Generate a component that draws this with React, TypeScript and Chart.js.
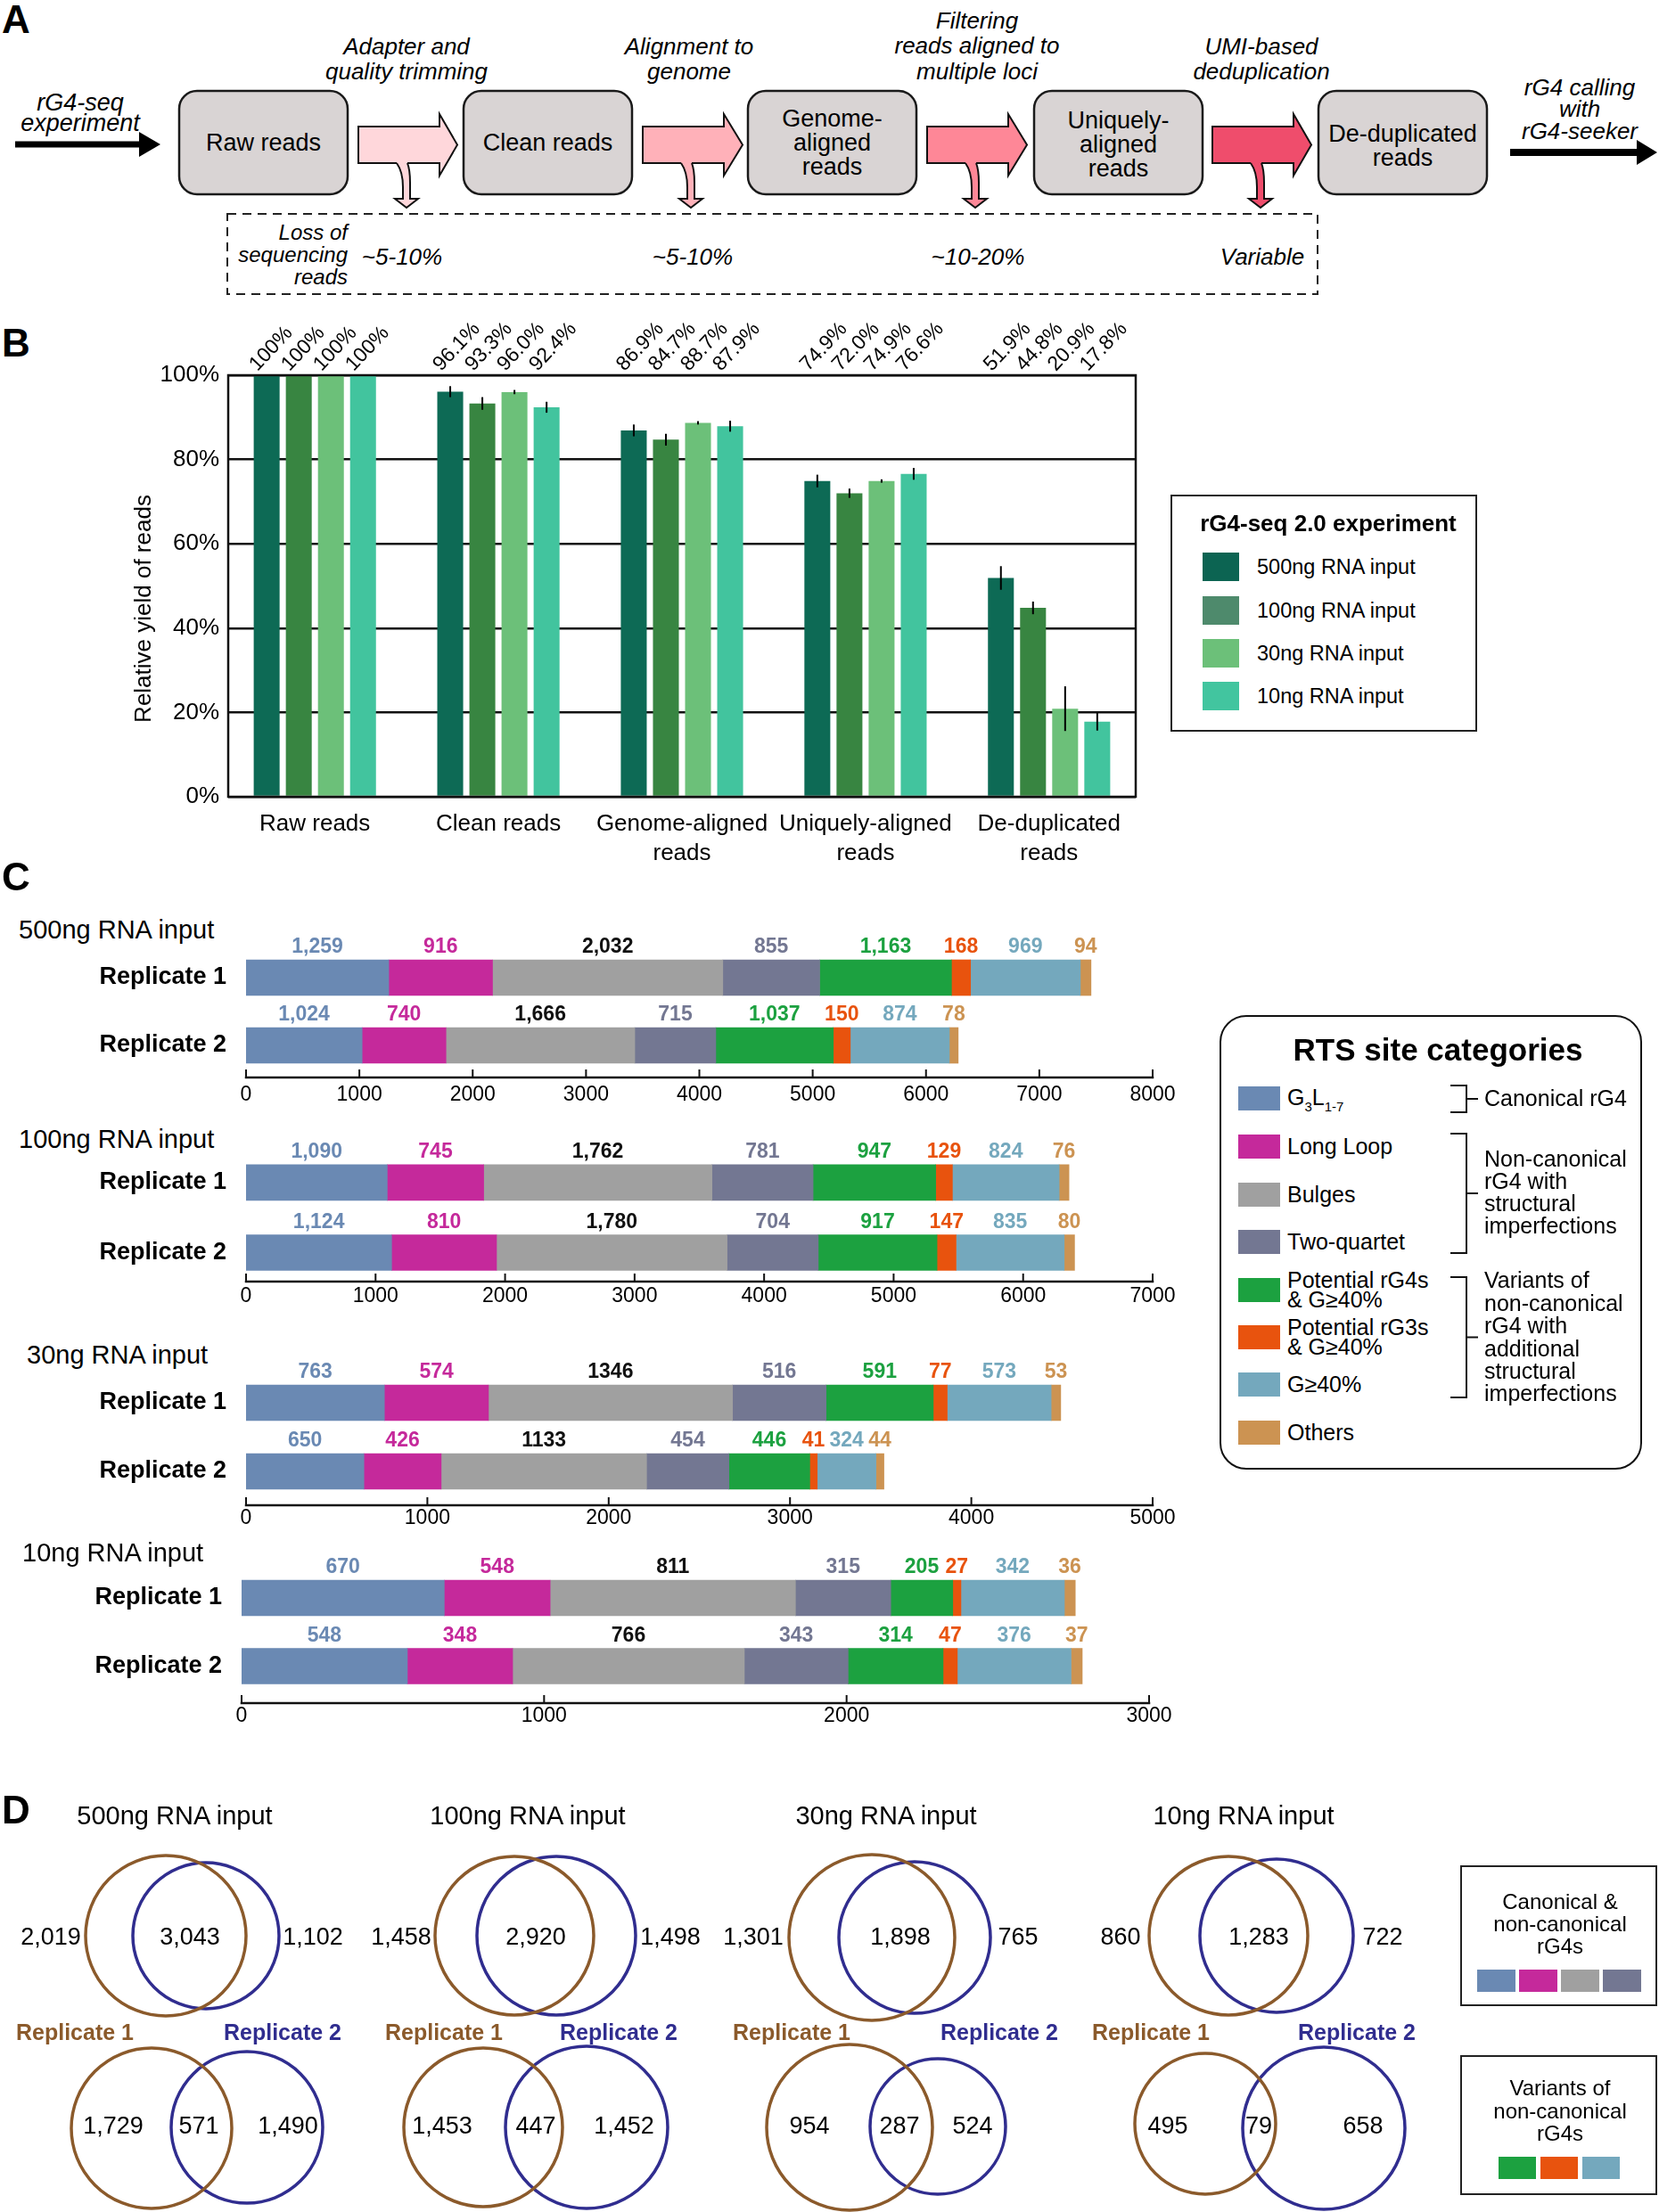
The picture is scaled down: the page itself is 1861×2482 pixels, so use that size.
import React, { useEffect, useRef } from 'react';
import { Chart, registerables } from 'chart.js';

Chart.register(...registerables);
const FONT = "'Liberation Sans', Arial, Helvetica, sans-serif";
Chart.defaults.font.family = FONT;
Chart.defaults.color = '#000';

const PAGE_W = 1861;
const PAGE_H = 2482;

// ================= Panel B data =================
const stepTickLabels = [['Raw reads'], ['Clean reads'], ['Genome-aligned', 'reads'], ['Uniquely-aligned', 'reads'], ['De-duplicated', 'reads']];
const inputLabels = ['500ng RNA input', '100ng RNA input', '30ng RNA input', '10ng RNA input'];
const yield500ng = [100, 96.1, 86.9, 74.9, 51.9];
const yield100ng = [100, 93.3, 84.7, 72.0, 44.8];
const yield30ng = [100, 96.0, 88.7, 74.9, 20.9];
const yield10ng = [100, 92.4, 87.9, 76.6, 17.8];
const err500ng = [0, 1.3, 1.4, 1.5, 2.8];
const err100ng = [0, 1.5, 1.4, 1.1, 1.5];
const err30ng = [0, 0.5, 0.4, 0.4, 5.3];
const err10ng = [0, 1.3, 1.3, 1.4, 2.1];
const yieldTicks = [0, 20, 40, 60, 80, 100];

// ================= Panel C data =================
const rtsCategories = ['G3L1-7', 'Long Loop', 'Bulges', 'Two-quartet', 'Potential rG4s\n& G≥40%', 'Potential rG3s\n& G≥40%', 'G≥40%', 'Others'];
const replicateLabels = ['Replicate 1', 'Replicate 2'];
const rts500Rep1 = [1259, 916, 2032, 855, 1163, 168, 969, 94];
const rts500Rep2 = [1024, 740, 1666, 715, 1037, 150, 874, 78];
const rts100Rep1 = [1090, 745, 1762, 781, 947, 129, 824, 76];
const rts100Rep2 = [1124, 810, 1780, 704, 917, 147, 835, 80];
const rts30Rep1 = [763, 574, 1346, 516, 591, 77, 573, 53];
const rts30Rep2 = [650, 426, 1133, 454, 446, 41, 324, 44];
const rts10Rep1 = [670, 548, 811, 315, 205, 27, 342, 36];
const rts10Rep2 = [548, 348, 766, 343, 314, 47, 376, 37];
// bar lengths as drawn in the figure for 10ng replicate 1 (Long Loop bar is drawn ~350 long under its "548" label)
const rts10Rep1Drawn = [670, 350, 811, 315, 205, 27, 342, 36];
const ticks500 = [0, 1000, 2000, 3000, 4000, 5000, 6000, 7000, 8000];
const ticks100 = [0, 1000, 2000, 3000, 4000, 5000, 6000, 7000];
const ticks30 = [0, 1000, 2000, 3000, 4000, 5000];
const ticks10 = [0, 1000, 2000, 3000];

// ================= Panel D data =================
const vennTitles = ['500ng RNA input', '100ng RNA input', '30ng RNA input', '10ng RNA input'];
const canonicalRep1Only = [2019, 1458, 1301, 860];
const canonicalShared = [3043, 2920, 1898, 1283];
const canonicalRep2Only = [1102, 1498, 765, 722];
const variantRep1Only = [1729, 1453, 954, 495];
const variantShared = [571, 447, 287, 79];
const variantRep2Only = [1490, 1452, 524, 658];

// ================= styles =================
const bBarColors = ['#0d6a55', '#388541', '#6cc079', '#42c49e'];
const bLegendColors = ['#0c6452', '#4e8a6c', '#6cc079', '#42c59f'];
const rtsColors = ['#6a89b3', '#c5299b', '#a0a0a0', '#737792', '#1ca140', '#e8530e', '#74a8bd', '#cc9352'];
const rtsLabelColors = ['#6a89b3', '#c5299b', '#111111', '#737792', '#1ca140', '#e8530e', '#74a8bd', '#cc9352'];
const REP1_COLOR = '#8b5a2b';
const REP2_COLOR = '#302d8f';

function T(props: any) {
  const { x, y, size = 26, weight = 400, italic = false, color = '#000', align = 'left', lh, children } = props;
  const L = lh ?? Math.round(size * 1.2);
  const s: any = {
    position: 'absolute', top: y - L / 2, fontSize: size, lineHeight: `${L}px`, fontWeight: weight,
    fontStyle: italic ? 'italic' : 'normal', color, whiteSpace: 'pre', fontFamily: FONT,
  };
  if (align === 'center') { s.left = x - 600; s.width = 1200; s.textAlign = 'center'; }
  else if (align === 'right') { s.left = x - 1200; s.width = 1200; s.textAlign = 'right'; }
  else { s.left = x; }
  return <div style={s}>{children}</div>;
}

function ChartCanvas({ left, top, width, height, make }: any) {
  const ref = useRef<HTMLCanvasElement>(null);
  useEffect(() => {
    const ch = make(ref.current);
    return () => ch.destroy();
  }, []);
  return <canvas ref={ref} width={width} height={height} style={{ position: 'absolute', left, top, width, height }} />;
}

// ================= Panel A =================
const boxXs = [201, 520, 839, 1160, 1479];
const arrowGeo = [[402, 493, 513], [721, 812, 833], [1040, 1131, 1152], [1360, 1451, 1471]];
const arrowColors = ['#ffd7db', '#ffb1b9', '#fe8797', '#ef4d6c'];

function PanelA() {
  const cy = 162.5, sh = 20.5, hh = 34.5;
  return (
    <>
      <svg width={PAGE_W} height={340} style={{ position: 'absolute', left: 0, top: 0 }}>
        <path d="M17,158.5 L156,158.5 L156,148 L180,162 L156,176 L156,165.5 L17,165.5 Z" fill="#000" />
        <path d="M1694,167 L1836,167 L1836,157 L1859,171 L1836,185 L1836,175 L1694,175 Z" fill="#000" />
        {boxXs.map((x, i) => (
          <rect key={i} x={x} y={102} width={189} height={116} rx={20} ry={20} fill="#d9d4d4" stroke="#1a1a1a" strokeWidth={2.5} />
        ))}
        {arrowGeo.map(([sx, hx, tx], i) => {
          const body = `M${sx},${cy - sh} L${hx},${cy - sh} L${hx},${cy - hh} L${tx},${cy} L${hx},${cy + hh} L${hx},${cy + sh} L${sx},${cy + sh} Z`;
          const b = cy + sh;
          const sideCore = `C${sx + 48},${b + 7} ${sx + 50},${b + 17} ${sx + 50},${b + 27} L${sx + 50},223 L${sx + 41},223 L${sx + 54},233 L${sx + 67},223 L${sx + 58},223 L${sx + 58},${b + 22} C${sx + 58},${b + 12} ${sx + 57},${b + 5} ${sx + 55},${b}`;
          const side = `M${sx + 43},${b} ${sideCore}`;
          const fillP = `M${sx + 43},${b - 3} L${sx + 43},${b} ${sideCore} L${sx + 55},${b - 3} Z`;
          return (
            <g key={i}>
              <path d={body} fill={arrowColors[i]} stroke="#111" strokeWidth={2} strokeLinejoin="miter" />
              <path d={fillP} fill={arrowColors[i]} stroke="none" />
              <path d={side} fill="none" stroke="#111" strokeWidth={2} />
            </g>
          );
        })}
        <rect x={255} y={240} width={1223} height={90} fill="none" stroke="#222" strokeWidth={2} strokeDasharray="10 7" />
      </svg>
      <T x={2} y={22} size={44} weight={700} lh={44}>A</T>
      <T x={90} y={115} size={27} italic align="center" lh={23}>{'rG4-seq\nexperiment'}</T>
      <T x={456} y={52} size={26} italic align="center" lh={28}>{'Adapter and\nquality trimming'}</T>
      <T x={773} y={52} size={26} italic align="center" lh={28}>{'Alignment to\ngenome'}</T>
      <T x={1096} y={23} size={26} italic align="center" lh={28.5}>{'Filtering\nreads aligned to\nmultiple loci'}</T>
      <T x={1415} y={52} size={26} italic align="center" lh={28}>{'UMI-based\ndeduplication'}</T>
      <T x={1772} y={98} size={26} italic align="center" lh={24.5}>{'rG4 calling\nwith\nrG4-seeker'}</T>
      <T x={295.5} y={160} size={27} align="center">Raw reads</T>
      <T x={614.5} y={160} size={27} align="center">Clean reads</T>
      <T x={933.5} y={133} size={27} align="center" lh={27}>{'Genome-\naligned\nreads'}</T>
      <T x={1254.5} y={135} size={27} align="center" lh={27}>{'Uniquely-\naligned\nreads'}</T>
      <T x={1573.5} y={150} size={27} align="center" lh={27}>{'De-duplicated\nreads'}</T>
      <T x={390} y={260} size={24} italic align="right" lh={25}>{'Loss of\nsequencing\nreads'}</T>
      <T x={451} y={288} size={26} italic align="center">~5-10%</T>
      <T x={777} y={288} size={26} italic align="center">~5-10%</T>
      <T x={1097} y={288} size={26} italic align="center">~10-20%</T>
      <T x={1416} y={288} size={26} italic align="center">Variable</T>
    </>
  );
}

// ================= Panel B =================
const B_XMIN = -0.472;
const B_XMAX = 4.472;

function makeYieldChart(canvas: HTMLCanvasElement) {
  const series = [yield500ng, yield100ng, yield30ng, yield10ng];
  const errors = [err500ng, err100ng, err30ng, err10ng];
  const TOP = 340;
  const fmtPct = (v: number) => (v === 100 ? '100%' : v.toFixed(1) + '%');
  const decor = {
    id: 'bDecor',
    afterDatasetsDraw(chart: any) {
      const { ctx, chartArea: a } = chart;
      const y = chart.scales.y;
      ctx.save();
      ctx.strokeStyle = '#111';
      ctx.lineWidth = 2.5;
      ctx.strokeRect(a.left, a.top, a.right - a.left, a.bottom - a.top);
      ctx.lineWidth = 2;
      ctx.strokeStyle = '#000';
      series.forEach((vals, i) => {
        const meta = chart.getDatasetMeta(i);
        vals.forEach((v, j) => {
          const e = errors[i][j];
          if (!e) return;
          const x = meta.data[j].x;
          ctx.beginPath();
          ctx.moveTo(x, y.getPixelForValue(v + e));
          ctx.lineTo(x, y.getPixelForValue(v - e));
          ctx.stroke();
        });
      });
      ctx.fillStyle = '#000';
      ctx.font = `23px ${FONT}`;
      ctx.textAlign = 'left';
      ctx.textBaseline = 'middle';
      series.forEach((vals, i) => {
        const meta = chart.getDatasetMeta(i);
        vals.forEach((v, j) => {
          const x = meta.data[j].x;
          ctx.save();
          ctx.translate(x - 15, a.top - 8);
          ctx.rotate(-Math.PI * 0.26);
          ctx.fillText(fmtPct(v), 0, 0);
          ctx.restore();
        });
      });
      ctx.save();
      ctx.translate(162, 683 - TOP);
      ctx.rotate(-Math.PI / 2);
      ctx.textAlign = 'center';
      ctx.font = `26px ${FONT}`;
      ctx.fillText('Relative yield of reads', 0, 0);
      ctx.restore();
      ctx.restore();
    },
  };
  return new Chart(canvas, {
    type: 'bar',
    data: {
      datasets: series.map((vals, i) => ({
        label: inputLabels[i],
        data: vals.map((v, j) => ({ x: j, y: v })),
        backgroundColor: bBarColors[i],
        borderWidth: 0,
        categoryPercentage: 0.7,
        barPercentage: 0.806,
      })),
    },
    options: {
      responsive: false,
      animation: false,
      events: [],
      layout: { autoPadding: false, padding: { top: 81, right: 26, bottom: 0, left: 0 } },
      plugins: { legend: { display: false }, tooltip: { enabled: false } },
      scales: {
        x: {
          type: 'linear',
          offset: false,
          bounds: 'data',
          min: B_XMIN,
          max: B_XMAX,
          afterBuildTicks: (s: any) => {
            s.ticks = [0, 1, 2, 3, 4].map((v) => ({ value: v }));
            s.min = B_XMIN;
            s.max = B_XMAX;
          },
          afterFit: (s: any) => { s.height = 86; },
          grid: { display: false, offset: false, drawTicks: false },
          border: { display: false },
          ticks: {
            autoSkip: false,
            maxRotation: 0,
            padding: 14,
            color: '#000',
            font: { size: 26, lineHeight: 1.27 },
            callback: (v: any) => stepTickLabels[Math.round(v)] ?? '',
          },
        },
        y: {
          min: 0,
          max: 100,
          afterBuildTicks: (s: any) => { s.ticks = yieldTicks.map((v) => ({ value: v })); },
          afterFit: (s: any) => { s.width = 256; },
          grid: { color: '#111', lineWidth: 2.5, drawTicks: false },
          border: { display: false },
          ticks: { padding: 10, color: '#000', font: { size: 26 }, callback: (v: any) => `${v}%` },
        },
      },
    } as any,
    plugins: [decor],
  } as any);
}

function PanelB() {
  const rows = [636, 685, 733, 781];
  return (
    <>
      <T x={2} y={385} size={44} weight={700} lh={44}>B</T>
      <ChartCanvas left={0} top={340} width={1300} height={640} make={makeYieldChart} />
      <div style={{ position: 'absolute', left: 1313, top: 555, width: 344, height: 266, border: '2px solid #222', boxSizing: 'border-box' }} />
      <T x={1490} y={587} size={26} weight={700} align="center">rG4-seq 2.0 experiment</T>
      {rows.map((cy, i) => (
        <React.Fragment key={i}>
          <div style={{ position: 'absolute', left: 1349, top: cy - 16, width: 41, height: 32, background: bLegendColors[i] }} />
          <T x={1410} y={cy} size={23.5}>{inputLabels[i]}</T>
        </React.Fragment>
      ))}
    </>
  );
}

// ================= Panel C =================
const C_CANVAS_W = 1330;
const rtsCharts = [
  { title: '500ng RNA input', titleX: 21, titleY: 1043, bars: [rts500Rep1, rts500Rep2], labels: [rts500Rep1, rts500Rep2], max: 8000, ticks: ticks500, comma: true, g: { areaTop: 1059, pitch: 76, axisY: 1209, left: 276, right: 1293, labelDy: 20 } },
  { title: '100ng RNA input', titleX: 21, titleY: 1278, bars: [rts100Rep1, rts100Rep2], labels: [rts100Rep1, rts100Rep2], max: 7000, ticks: ticks100, comma: true, g: { areaTop: 1287.5, pitch: 79, axisY: 1438, left: 276, right: 1293, labelDy: 17 } },
  { title: '30ng RNA input', titleX: 30, titleY: 1520, bars: [rts30Rep1, rts30Rep2], labels: [rts30Rep1, rts30Rep2], max: 5000, ticks: ticks30, comma: false, g: { areaTop: 1535.5, pitch: 77, axisY: 1689, left: 276, right: 1293, labelDy: 15 } },
  { title: '10ng RNA input', titleX: 25, titleY: 1742, bars: [rts10Rep1Drawn, rts10Rep2], labels: [rts10Rep1, rts10Rep2], max: 3000, ticks: ticks10, comma: false, g: { areaTop: 1754.75, pitch: 76.5, axisY: 1911, left: 271, right: 1289, labelDy: 15 } },
];

function rtsCanvasBox(g: any) {
  const top = Math.round(g.areaTop - 40);
  const height = Math.round(g.axisY + 45 - top);
  return { top, height };
}

function makeRtsMaker(spec: any) {
  return (canvas: HTMLCanvasElement) => {
    const { g } = spec;
    const { top, height } = rtsCanvasBox(g);
    const padTop = g.areaTop - top;
    const padBottom = height - padTop - 2 * g.pitch;
    const fmt = (v: number) => (spec.comma ? v.toLocaleString('en-US') : String(v));
    const decor = {
      id: 'rtsDecor',
      afterDatasetsDraw(chart: any) {
        const { ctx } = chart;
        const xs = chart.scales.x;
        const ay = g.axisY - top;
        ctx.save();
        ctx.strokeStyle = '#111';
        ctx.lineWidth = 2.5;
        ctx.beginPath();
        ctx.moveTo(xs.getPixelForValue(0) - 1.25, ay);
        ctx.lineTo(xs.getPixelForValue(spec.max) + 1.25, ay);
        ctx.stroke();
        ctx.lineWidth = 2;
        spec.ticks.forEach((t: number) => {
          const px = xs.getPixelForValue(t);
          ctx.beginPath();
          ctx.moveTo(px, ay);
          ctx.lineTo(px, ay - 9);
          ctx.stroke();
        });
        ctx.fillStyle = '#000';
        ctx.font = `23px ${FONT}`;
        ctx.textAlign = 'center';
        ctx.textBaseline = 'middle';
        spec.ticks.forEach((t: number) => ctx.fillText(String(t), xs.getPixelForValue(t), ay + g.labelDy));
        ctx.font = `bold 23px ${FONT}`;
        chart.data.datasets.forEach((_ds: any, k: number) => {
          const meta = chart.getDatasetMeta(k);
          meta.data.forEach((bar: any, r: number) => {
            const p = bar.getProps(['x', 'base', 'y'], true);
            ctx.fillStyle = rtsLabelColors[k];
            ctx.fillText(fmt(spec.labels[r][k]), (p.x + p.base) / 2, p.y - 34);
          });
        });
        ctx.restore();
      },
    };
    return new Chart(canvas, {
      type: 'bar',
      data: {
        labels: replicateLabels,
        datasets: rtsCategories.map((c, k) => ({
          label: c,
          data: [spec.bars[0][k], spec.bars[1][k]],
          backgroundColor: rtsColors[k],
          borderWidth: 0,
          barThickness: 40,
        })),
      },
      options: {
        indexAxis: 'y',
        responsive: false,
        animation: false,
        events: [],
        layout: { autoPadding: false, padding: { top: padTop, right: C_CANVAS_W - g.right, bottom: padBottom, left: 0 } },
        plugins: { legend: { display: false }, tooltip: { enabled: false } },
        scales: {
          x: { stacked: true, min: 0, max: spec.max, display: false },
          y: {
            stacked: true,
            afterFit: (s: any) => { s.width = g.left; },
            grid: { display: false, drawTicks: false },
            border: { display: false },
            ticks: { padding: 22, color: '#000', font: { size: 27, weight: 'bold' } },
          },
        },
      } as any,
      plugins: [decor],
    } as any);
  };
}

const rtsMakers = rtsCharts.map((s) => makeRtsMaker(s));

function PanelC() {
  const rowY = [1232, 1286, 1340, 1393, 1447, 1500, 1553, 1607];
  return (
    <>
      <T x={2} y={984} size={44} weight={700} lh={44}>C</T>
      {rtsCharts.map((s, i) => {
        const { top, height } = rtsCanvasBox(s.g);
        return (
          <React.Fragment key={i}>
            <T x={s.titleX} y={s.titleY} size={29}>{s.title}</T>
            <ChartCanvas left={0} top={top} width={C_CANVAS_W} height={height} make={rtsMakers[i]} />
          </React.Fragment>
        );
      })}
      <div style={{ position: 'absolute', left: 1368, top: 1139, width: 474, height: 510, border: '2.5px solid #111', borderRadius: 30, boxSizing: 'border-box' }} />
      <T x={1613} y={1178} size={35} weight={700} align="center">RTS site categories</T>
      {rowY.map((cy, k) => (
        <React.Fragment key={k}>
          <div style={{ position: 'absolute', left: 1389, top: cy - 13.5, width: 47, height: 27, background: rtsColors[k] }} />
          {k === 0 ? (
            <div style={{ position: 'absolute', left: 1444, top: cy - 16, fontSize: 25, lineHeight: '30px', fontFamily: FONT, whiteSpace: 'pre' }}>
              G<span style={{ fontSize: 15, position: 'relative', top: 7 }}>3</span>L<span style={{ fontSize: 15, position: 'relative', top: 7 }}>1-7</span>
            </div>
          ) : rtsCategories[k].includes('\n') ? (
            <T x={1444} y={cy - 11} size={25} lh={22}>{rtsCategories[k]}</T>
          ) : (
            <T x={1444} y={cy} size={25}>{rtsCategories[k]}</T>
          )}
        </React.Fragment>
      ))}
      <svg width={PAGE_W} height={PAGE_H} style={{ position: 'absolute', left: 0, top: 0, pointerEvents: 'none' }}>
        {[[1218, 1248], [1272, 1406], [1433, 1568]].map(([a, b], i) => {
          const m = (a + b) / 2;
          return (
            <path key={i} d={`M1627,${a} L1645,${a} L1645,${b} L1627,${b} M1645,${m} L1658,${m}`} fill="none" stroke="#111" strokeWidth={2} />
          );
        })}
      </svg>
      <T x={1665} y={1232} size={25}>Canonical rG4</T>
      <T x={1665} y={1300} size={25} lh={25}>{'Non-canonical\nrG4 with\nstructural\nimperfections'}</T>
      <T x={1665} y={1437} size={25} lh={25.4}>{'Variants of\nnon-canonical\nrG4 with\nadditional\nstructural\nimperfections'}</T>
    </>
  );
}

// ================= Panel D =================
const VENN_TOP = 2060;
const VENN_H = PAGE_H - VENN_TOP;
const vennUpperRep1 = [[186, 2172, 90], [577, 2172, 89], [978, 2174, 93], [1378, 2172, 89]];
const vennUpperRep2 = [[231, 2172, 82], [624, 2172, 89], [1026, 2174, 85], [1432, 2172, 86]];
const vennLowerRep1 = [[170, 2388, 90], [542, 2387, 89], [953, 2387, 93], [1352, 2383, 79]];
const vennLowerRep2 = [[277, 2387, 85], [658, 2387, 91], [1052, 2386, 76], [1485, 2388, 91]];
const upperNumX = [[57, 213, 351], [450, 601, 752], [845, 1010, 1142], [1257, 1412, 1551]];
const lowerNumX = [[127, 223, 323], [496, 601, 700], [908, 1009, 1091], [1310, 1412, 1529]];
const vennTitleX = [196, 592, 994, 1395];
const rep1LabelX = [84, 498, 888, 1291];
const rep2LabelX = [317, 694, 1121, 1522];

function makeVenn(canvas: HTMLCanvasElement) {
  const toPts = (arr: number[][]) => arr.map(([x, y, r]) => ({ x, y, r }));
  return new Chart(canvas, {
    type: 'bubble',
    data: {
      datasets: [
        { label: 'Replicate 1', data: toPts([...vennUpperRep1, ...vennLowerRep1]), borderColor: REP1_COLOR, backgroundColor: 'rgba(0,0,0,0)', borderWidth: 3.5, clip: false },
        { label: 'Replicate 2', data: toPts([...vennUpperRep2, ...vennLowerRep2]), borderColor: REP2_COLOR, backgroundColor: 'rgba(0,0,0,0)', borderWidth: 3.5, clip: false },
      ],
    },
    options: {
      responsive: false,
      animation: false,
      events: [],
      layout: { autoPadding: false, padding: 0 },
      plugins: { legend: { display: false }, tooltip: { enabled: false } },
      scales: {
        x: { type: 'linear', bounds: 'data', min: 0, max: PAGE_W, display: false },
        y: { type: 'linear', bounds: 'data', min: VENN_TOP, max: PAGE_H, reverse: true, display: false },
      },
    } as any,
  } as any);
}

function PanelD() {
  const f = (v: number) => v.toLocaleString('en-US');
  return (
    <>
      <T x={2} y={2031} size={44} weight={700} lh={44}>D</T>
      {vennTitles.map((t, i) => (
        <T key={i} x={vennTitleX[i]} y={2037} size={29} align="center">{t}</T>
      ))}
      <ChartCanvas left={0} top={VENN_TOP} width={PAGE_W} height={VENN_H} make={makeVenn} />
      {vennTitles.map((_t, i) => (
        <React.Fragment key={i}>
          <T x={upperNumX[i][0]} y={2173} size={27} align="center">{f(canonicalRep1Only[i])}</T>
          <T x={upperNumX[i][1]} y={2173} size={27} align="center">{f(canonicalShared[i])}</T>
          <T x={upperNumX[i][2]} y={2173} size={27} align="center">{f(canonicalRep2Only[i])}</T>
          <T x={lowerNumX[i][0]} y={2385} size={27} align="center">{f(variantRep1Only[i])}</T>
          <T x={lowerNumX[i][1]} y={2385} size={27} align="center">{f(variantShared[i])}</T>
          <T x={lowerNumX[i][2]} y={2385} size={27} align="center">{f(variantRep2Only[i])}</T>
          <T x={rep1LabelX[i]} y={2280} size={25} weight={700} color={REP1_COLOR} align="center">Replicate 1</T>
          <T x={rep2LabelX[i]} y={2280} size={25} weight={700} color={REP2_COLOR} align="center">Replicate 2</T>
        </React.Fragment>
      ))}
      <div style={{ position: 'absolute', left: 1638, top: 2093, width: 221, height: 158, border: '2.5px solid #222', boxSizing: 'border-box' }} />
      <T x={1750} y={2133} size={24} align="center" lh={25}>{'Canonical &\nnon-canonical\nrG4s'}</T>
      {[1657, 1704, 1751, 1798].map((x, k) => (
        <div key={k} style={{ position: 'absolute', left: x, top: 2210, width: 43, height: 25, background: rtsColors[k] }} />
      ))}
      <div style={{ position: 'absolute', left: 1638, top: 2306, width: 221, height: 157, border: '2.5px solid #222', boxSizing: 'border-box' }} />
      <T x={1750} y={2343} size={24} align="center" lh={25.5}>{'Variants of\nnon-canonical\nrG4s'}</T>
      {[1681, 1728, 1775].map((x, k) => (
        <div key={k} style={{ position: 'absolute', left: x, top: 2420, width: 42, height: 25, background: rtsColors[k + 4] }} />
      ))}
    </>
  );
}

export default function App() {
  return (
    <div style={{ position: 'absolute', left: 0, top: 0, width: PAGE_W, height: PAGE_H, background: '#fff', overflow: 'hidden', fontFamily: FONT, color: '#000' }}>
      <PanelA />
      <PanelB />
      <PanelC />
      <PanelD />
    </div>
  );
}
